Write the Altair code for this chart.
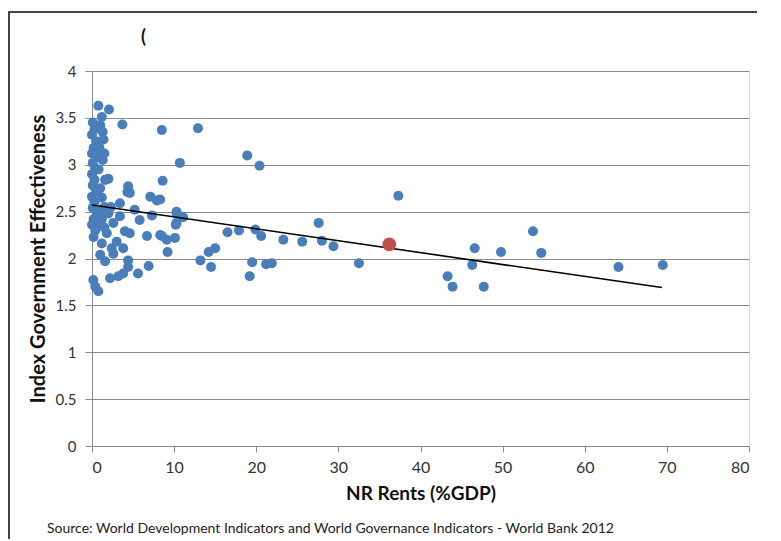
import altair as alt
import pandas as pd

# Blue points: NR rents (% GDP) vs index of government effectiveness
rents = [
    8.5, 12.9, 18.9, 20.4, 10.7, 8.6, 8.3, 37.3,
    10.3, 11.1, 10.2, 8.5, 9.1, 10.1, 9.2, 13.2, 14.5, 14.2, 15.0, 16.5, 17.9, 19.9, 20.6,
    19.5, 19.2, 21.2, 21.9, 23.3, 25.6, 27.6, 28.0, 29.4, 32.5,
    53.7, 46.6, 49.8, 54.7, 46.3, 43.3, 43.9, 47.7, 64.1, 69.5,
    0.77, 2.07, 3.7, 1.2, 1.4, 1.6, 4.4, 4.6, 7.1, 7.9,
    0.16, 0.77, 0.4, 2.2, 3.2, 3.8, 4.4, 4.4, 5.6, 6.9, 1.6, 1.0, 2.6, 3.8, 6.7, 8.3,
    4.0, 4.6, 5.8, 7.3, 5.2, 3.4, 3.4, 2.6, 1.8, 0.6, 0.2, 1.2, 3.0, 2.4, 10.3, 10.3,
    0.1, 0.3, 0.0, 0.5, 0.2, 0.0, 0.6, 0.1, 0.4, 0.0, 0.3, 0.1, 0.5, 0.0, 0.3, 0.1, 0.6,
    0.2, 0.0, 0.4, 1.0, 1.3, 0.9, 1.1, 1.3, 0.8, 1.0, 1.2, 1.5, 0.9, 1.2, 2.0, 2.3, 2.0,
    1.5, 1.5, 1.7, 4.3,
]
effectiveness = [
    3.37, 3.39, 3.10, 2.99, 3.02, 2.83, 2.63, 2.67,
    2.50, 2.44, 2.36, 2.24, 2.20, 2.22, 2.07, 1.98, 1.91, 2.07, 2.11, 2.28, 2.30, 2.31, 2.24,
    1.96, 1.81, 1.94, 1.95, 2.20, 2.18, 2.38, 2.19, 2.13, 1.95,
    2.29, 2.11, 2.07, 2.06, 1.93, 1.81, 1.70, 1.70, 1.91, 1.93,
    3.63, 3.59, 3.43, 3.51, 3.27, 2.84, 2.77, 2.70, 2.66, 2.62,
    1.77, 1.65, 1.70, 1.79, 1.81, 1.84, 1.91, 1.98, 1.84, 1.92, 1.97, 2.04, 2.05, 2.11, 2.24, 2.25,
    2.29, 2.27, 2.41, 2.46, 2.52, 2.59, 2.45, 2.38, 2.27, 2.34, 2.23, 2.16, 2.18, 2.11, 2.48, 2.38,
    3.45, 3.38, 3.32, 3.25, 3.18, 3.12, 3.08, 3.02, 2.96, 2.90, 2.84, 2.78, 2.72, 2.66, 2.60, 2.54, 2.48,
    2.42, 2.36, 2.30, 3.42, 3.35, 3.18, 3.12, 3.05, 2.95, 2.75, 2.65, 2.55, 2.50, 2.42, 2.85, 2.55, 2.48,
    2.33, 3.12, 2.84, 2.71,
]

# Highlighted country (red)
highlight_x = [36.2]
highlight_y = [2.15]

# Linear trend line endpoints as drawn
trend_x = [0.0, 69.4]
trend_y = [2.57, 1.69]

x_ticks = [0, 10, 20, 30, 40, 50, 60, 70, 80]
y_ticks = [0, 0.5, 1, 1.5, 2, 2.5, 3, 3.5, 4]

title_text = ["("]
source_text = ["Source:  World Development  Indicators and World Governance Indicators - World Bank 2012"]

FONT = "Lato"
GRID = "#8a8a8a"

pts = pd.DataFrame({"x": rents, "y": effectiveness})
red = pd.DataFrame({"x": highlight_x, "y": highlight_y})
trend = pd.DataFrame({"x": trend_x, "y": trend_y})
one = pd.DataFrame({"k": [0]})

xscale = alt.Scale(domain=[0, 80], nice=False)
yscale = alt.Scale(domain=[0, 4], nice=False)

xaxis = alt.Axis(
    values=x_ticks, grid=False, domainColor=GRID, tickColor=GRID, tickSize=6,
    labelFontSize=16, labelColor="#333333", labelPadding=7, labelFont=FONT,
    title="NR Rents (%GDP)", titleFontSize=19, titleFontWeight="bold",
    titleFont=FONT, titleColor="#111111", titlePadding=9,
)
yaxis = alt.Axis(
    values=y_ticks, format=".1~f", grid=True, gridColor=GRID, domainColor=GRID,
    tickColor=GRID, tickSize=7, labelFontSize=15, labelColor="#333333",
    labelPadding=9, labelFont=FONT,
    title="Index Government Effectiveness", titleFontSize=20, titleFontWeight="bold",
    titleFont=FONT, titleColor="#111111", titlePadding=7,
)

base_pts = alt.Chart(pts).mark_circle(size=100, color="#4A7EBB", opacity=1).encode(
    x=alt.X("x:Q", scale=xscale, axis=xaxis),
    y=alt.Y("y:Q", scale=yscale, axis=yaxis),
)

line = alt.Chart(trend).mark_line(color="#000000", strokeWidth=1.6).encode(
    x=alt.X("x:Q", scale=xscale),
    y=alt.Y("y:Q", scale=yscale),
)

red_pt = alt.Chart(red).mark_circle(size=190, color="#C0504D", opacity=1).encode(
    x=alt.X("x:Q", scale=xscale),
    y=alt.Y("y:Q", scale=yscale),
)

frame_top = alt.Chart(one).mark_rule(color="#444444", strokeWidth=2).encode(
    x=alt.value(-84), x2=alt.value(700), y=alt.value(-59)
)
frame_left = alt.Chart(one).mark_rule(color="#444444", strokeWidth=2).encode(
    x=alt.value(-83), y=alt.value(-60), y2=alt.value(600)
)

title = alt.Chart(pd.DataFrame({"t": title_text})).mark_text(
    align="left", baseline="middle", fontSize=18, fontWeight="bold", font=FONT, color="#111111"
).encode(text="t:N", x=alt.value(49), y=alt.value(-33))

source = alt.Chart(pd.DataFrame({"t": source_text})).mark_text(
    align="left", baseline="middle", fontSize=14, font=FONT, color="#222222"
).encode(text="t:N", x=alt.value(-45), y=alt.value(458))

chart = alt.layer(frame_top, frame_left, base_pts, line, red_pt, title, source).properties(
    width=657,
    height=375,
    autosize=alt.AutoSizeParams(type="none"),
    padding={"left": 84, "top": 63, "right": 8, "bottom": 93},
).configure_view(stroke=None).configure(background="white")

chart.save("out.html", embed_options={"renderer": "svg", "actions": False})
